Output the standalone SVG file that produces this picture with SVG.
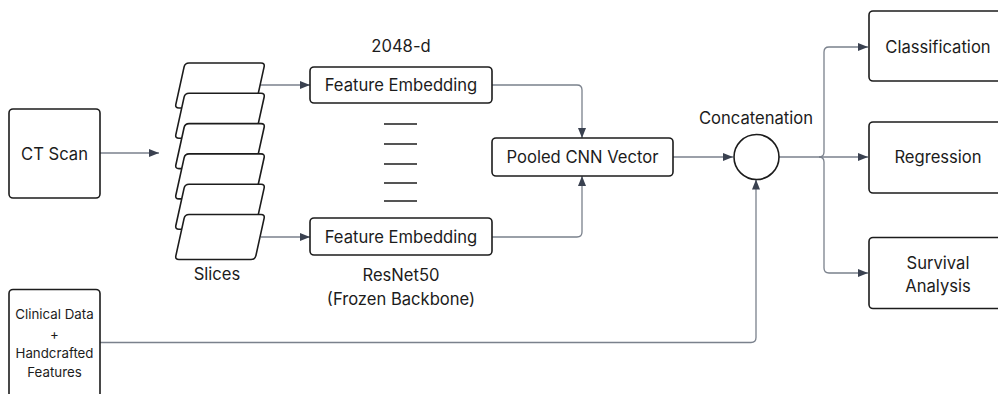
<svg xmlns="http://www.w3.org/2000/svg" width="998" height="394" viewBox="0 0 998 394">
<style>
.box{fill:#fff;stroke:#1c1c1c;stroke-width:1.6}
.t{font-family:Inter,"Liberation Sans",sans-serif;font-size:16.6px;fill:#1c1c1c;text-anchor:middle;dominant-baseline:central}
.s{font-size:13.3px}
.c{fill:none;stroke:#7a818c;stroke-width:1.3}
.d{stroke:#1c1c1c;stroke-width:1.5}
</style>
<defs>
<marker id="ah" viewBox="0 0 10 10" refX="10" refY="5" markerWidth="10" markerHeight="10" markerUnits="userSpaceOnUse" orient="auto">
<path d="M0,1 L10,5 L0,9 Z" fill="#3a4150"/>
</marker>
<path id="slice" d="M14,0 H86 Q90,0 89.1,3.9 L80.9,41.1 Q80,45 76,45 H4 Q0,45 0.9,41.1 L9.1,3.9 Q10,0 14,0 Z"/>
</defs>
<rect width="998" height="394" fill="#fff"/>
<g id="connectors">
<path class="c" d="M100,153 H159" marker-end="url(#ah)"/>
<path class="c" d="M260,85 H310" marker-end="url(#ah)"/>
<path class="c" d="M261,237 H310" marker-end="url(#ah)"/>
<path class="c" d="M492,85 H577 Q582,85 582,90 V138" marker-end="url(#ah)"/>
<path class="c" d="M492,237 H577 Q582,237 582,232 V176" marker-end="url(#ah)"/>
<path class="c" d="M673,157 H733" marker-end="url(#ah)"/>
<path class="c" d="M100,342.5 H751 Q756,342.5 756,337.5 V179.5" marker-end="url(#ah)"/>
<path class="c" d="M779,157 H868" marker-end="url(#ah)"/>
<path class="c" d="M819,157 Q824,157 824,152 V52 Q824,47 829,47 H868" marker-end="url(#ah)"/>
<path class="c" d="M819,157 Q824,157 824,162 V268 Q824,273 829,273 H868" marker-end="url(#ah)"/>
</g>
<g id="ct-scan">
<rect class="box" x="9" y="109" width="91" height="89" rx="4"/>
<text class="t" x="54.5" y="153.5">CT Scan</text>
</g>
<g id="slices">
<use href="#slice" class="box" x="175" y="63"/>
<use href="#slice" class="box" x="175" y="93.3"/>
<use href="#slice" class="box" x="175" y="123.6"/>
<use href="#slice" class="box" x="175" y="153.9"/>
<use href="#slice" class="box" x="175" y="184.2"/>
<use href="#slice" class="box" x="175" y="214.5"/>
<text class="t" x="217" y="274">Slices</text>
</g>
<g id="feature-embedding-1">
<rect class="box" x="310" y="67" width="182" height="36" rx="4"/>
<text class="t" x="401" y="85">Feature Embedding</text>
<text class="t" x="401" y="46">2048-d</text>
</g>
<g id="dashes">
<line class="d" x1="384" y1="124" x2="417" y2="124"/>
<line class="d" x1="384" y1="144" x2="417" y2="144"/>
<line class="d" x1="384" y1="164" x2="417" y2="164"/>
<line class="d" x1="384" y1="183" x2="417" y2="183"/>
<line class="d" x1="384" y1="201" x2="417" y2="201"/>
</g>
<g id="feature-embedding-2">
<rect class="box" x="310" y="218" width="182" height="37" rx="4"/>
<text class="t" x="401" y="237">Feature Embedding</text>
<text class="t" x="401" y="275">ResNet50</text>
<text class="t" x="401" y="299">(Frozen Backbone)</text>
</g>
<g id="pooled">
<rect class="box" x="492" y="138" width="181" height="38" rx="4"/>
<text class="t" x="582.5" y="157">Pooled CNN Vector</text>
</g>
<g id="concatenation">
<circle class="box" cx="756.5" cy="157" r="22.5"/>
<text class="t" x="756" y="118">Concatenation</text>
</g>
<g id="classification">
<rect class="box" x="869" y="11" width="140" height="70" rx="4"/>
<text class="t" x="938" y="46.5">Classification</text>
</g>
<g id="regression">
<rect class="box" x="869" y="122" width="140" height="71" rx="4"/>
<text class="t" x="938" y="157">Regression</text>
</g>
<g id="survival">
<rect class="box" x="869" y="237.5" width="140" height="71" rx="4"/>
<text class="t" x="938" y="263">Survival</text>
<text class="t" x="938" y="286">Analysis</text>
</g>
<g id="clinical">
<rect class="box" x="9" y="289.5" width="91" height="120" rx="4"/>
<text class="t s" x="54.5" y="314">Clinical Data</text>
<text class="t s" x="54.5" y="333.5">+</text>
<text class="t s" x="54.5" y="353">Handcrafted</text>
<text class="t s" x="54.5" y="372">Features</text>
</g>
</svg>
